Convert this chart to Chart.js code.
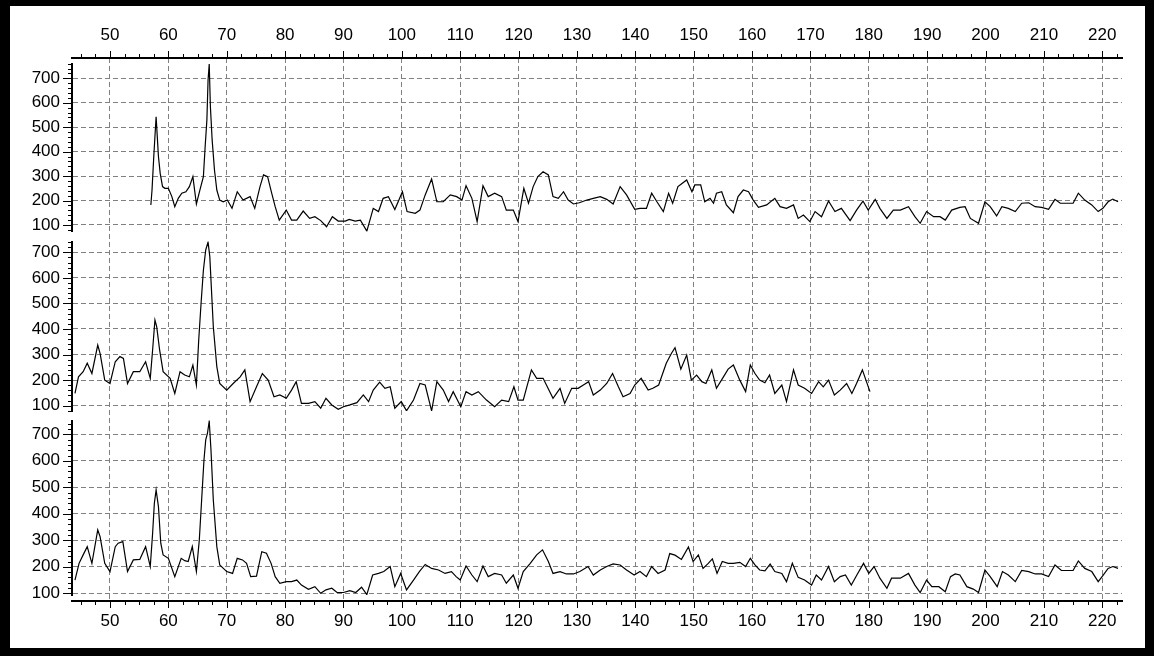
<!DOCTYPE html>
<html>
<head>
<meta charset="utf-8">
<title>Stacked spectra</title>
<script src="https://cdn.jsdelivr.net/npm/chart.js@4.4.1/dist/chart.umd.min.js"></script>
<style>
  html, body { margin: 0; padding: 0; background: #000; }
  body { width: 1154px; height: 656px; position: relative; overflow: hidden; }
  #frame { position: absolute; left: 10px; top: 6px; width: 1135px; height: 642px; background: #fff; }
  canvas { display: block; }
</style>
</head>
<body>
<div id="frame"><canvas id="chart" width="1135" height="642"></canvas></div>
<script>
// Axis labels
const X_TICKS = [50, 60, 70, 80, 90, 100, 110, 120, 130, 140, 150, 160, 170, 180, 190, 200, 210, 220];
const Y_TICKS = [100, 200, 300, 400, 500, 600, 700];
const X_MINOR_STEP = 2.5;
const Y_MINOR_STEP = 20;

// Upper trace
const topX = [57, 57.2, 57.5, 57.9, 58.3, 58.6, 59, 59.4, 60, 60.6,
  61.1, 61.7, 62.3, 63, 63.6, 64.2, 64.8, 65.4, 66, 66.3,
  66.6, 66.8, 67, 67.2, 67.5, 67.9, 68.3, 68.8, 69.4, 70.1,
  70.9, 71.8, 72.8, 74, 74.8, 75.7, 76.3, 77, 77.7, 78.3,
  79, 80.2, 81.1, 82, 83.1, 84.2, 85.1, 86.1, 87.1, 88.1,
  89.1, 90.3, 91, 92, 92.9, 94, 95.1, 96, 96.8, 97.7,
  98.8, 100.1, 100.9, 102.3, 103.1, 104, 105.1, 106, 107.1, 108.3,
  109.4, 110.3, 111, 112, 112.9, 113.9, 114.8, 115.9, 117.1, 117.9,
  119.1, 119.9, 120.9, 121.7, 122.5, 123.3, 124.2, 125.1, 125.9, 126.8,
  127.7, 128.5, 129.4, 130.4, 131.7, 132.8, 134, 135.1, 136.2, 137.4,
  138.5, 139.9, 140.8, 141.9, 142.8, 143.7, 144.8, 145.7, 146.4, 147.3,
  148, 148.8, 149.7, 150.2, 151.2, 151.9, 152.8, 153.4, 153.9, 154.8,
  155.6, 156.8, 157.6, 158.5, 159.4, 160.2, 161.1, 162.5, 163.9, 164.8,
  165.9, 167.1, 167.9, 168.8, 169.9, 170.8, 171.9, 173.1, 174.2, 175.3,
  176.8, 177.9, 179, 179.9, 181.1, 181.9, 183.1, 184.2, 185.4, 186.8,
  187.9, 188.8, 189.9, 191.1, 192.2, 193.1, 194.2, 195.6, 196.5, 197.4,
  198.8, 199.9, 200.8, 201.9, 202.8, 203.9, 205.1, 206.2, 207.4, 208.5,
  209.6, 210.8, 211.9, 212.8, 213.9, 215, 215.9, 217, 218.2, 219.3,
  220.1, 221, 221.8, 222.7];
const topY = [182, 243, 380, 543, 380, 311, 257, 250, 250, 216,
  175, 209, 230, 236, 257, 298, 186, 243, 298, 420,
  530, 693, 758, 584, 448, 325, 243, 202, 195, 202,
  168, 236, 202, 216, 168, 257, 305, 298, 230, 175,
  120, 161, 120, 120, 157, 127, 134, 118, 93, 134,
  116, 116, 123, 116, 120, 75, 168, 155, 209, 216,
  163, 236, 155, 148, 161, 223, 288, 195, 195, 223,
  216, 202, 261, 209, 114, 261, 216, 230, 216, 161,
  161, 114, 250, 189, 257, 298, 318, 305, 216, 209,
  236, 202, 186, 191, 202, 209, 216, 205, 186, 257,
  223, 164, 168, 168, 230, 195, 155, 230, 189, 257,
  270, 284, 236, 264, 264, 195, 209, 189, 230, 236,
  182, 150, 216, 243, 236, 202, 172, 182, 209, 175,
  168, 182, 127, 141, 114, 155, 134, 198, 155, 168,
  118, 161, 198, 161, 205, 168, 127, 161, 161, 175,
  134, 107, 155, 134, 134, 120, 161, 172, 175, 127,
  107, 195, 175, 137, 175, 168, 155, 189, 191, 175,
  172, 164, 205, 189, 189, 189, 230, 202, 182, 155,
  168, 195, 206, 195];

// Middle trace
const midX = [44, 44.6, 45.4, 46.1, 46.9, 47.9, 48.3, 49.1, 50, 50.9,
  51.7, 52.3, 53, 54, 55.1, 56.1, 56.9, 57.3, 57.7, 58,
  58.5, 59.1, 60.3, 61.1, 62, 62.8, 63.6, 64.2, 64.8, 65.2,
  65.6, 66, 66.4, 66.8, 67.1, 67.7, 68.3, 68.8, 70, 71.1,
  72.3, 73.1, 74, 75.1, 76.1, 77.1, 78.1, 79.1, 80.2, 81.1,
  81.9, 82.8, 84, 85.1, 86.1, 87, 88, 89.1, 90, 91.1,
  92.3, 93.4, 94.3, 95.1, 96.2, 97.1, 98, 98.8, 99.9, 100.8,
  102, 103.1, 104, 105.1, 106, 107.1, 108, 108.8, 110.1, 111,
  112, 113.1, 114.5, 115.9, 117.1, 118.3, 119.2, 119.9, 120.8, 122.2,
  123.1, 124.2, 125.9, 127.1, 127.9, 129.1, 130.2, 131.1, 132, 132.8,
  134, 135.1, 136.1, 137.1, 137.9, 139.1, 139.9, 141, 142.2, 143,
  144, 145.3, 146.2, 146.8, 147.8, 148.8, 149.6, 150.5, 151.4, 152.1,
  153.1, 153.9, 155.1, 155.9, 156.8, 157.9, 158.9, 159.7, 160.5, 161.3,
  162.2, 163, 163.9, 165.1, 165.9, 167.1, 167.9, 169, 170.2, 171.4,
  172.2, 173.1, 174.1, 175.1, 176.2, 177.1, 177.9, 178.9, 179.6, 180.2];
const midY = [148, 213, 233, 266, 226, 337, 305, 200, 187, 272,
  292, 285, 187, 233, 233, 272, 207, 318, 435, 409,
  318, 233, 207, 148, 233, 220, 213, 259, 181, 357,
  500, 630, 709, 740, 683, 409, 253, 187, 161, 187,
  213, 240, 116, 174, 226, 200, 135, 142, 129, 161,
  194, 109, 109, 116, 90, 129, 103, 86, 96, 103,
  112, 142, 116, 161, 192, 168, 174, 90, 116, 80,
  122, 187, 181, 80, 194, 161, 116, 155, 96, 155,
  142, 155, 122, 96, 122, 116, 174, 122, 122, 240,
  207, 207, 129, 168, 109, 168, 168, 181, 194, 142,
  161, 187, 226, 174, 135, 148, 181, 207, 161, 168,
  181, 266, 305, 327, 243, 298, 200, 220, 194, 187,
  240, 168, 213, 243, 259, 200, 155, 259, 226, 200,
  190, 220, 148, 181, 116, 240, 181, 168, 148, 194,
  174, 200, 142, 161, 187, 148, 187, 240, 194, 155];

// Lower trace
const botX = [44, 44.7, 45.4, 46.1, 46.9, 47.9, 48.3, 49.1, 50, 50.9,
  51.4, 52.2, 53, 54, 55.1, 56.1, 56.9, 57.3, 57.6, 57.9,
  58.3, 58.7, 59.1, 60, 61.1, 62.2, 62.8, 63.4, 64.1, 64.8,
  65.3, 65.7, 66.1, 66.4, 66.7, 67, 67.3, 67.7, 68.3, 68.8,
  70, 71, 71.8, 72.7, 73.4, 74.1, 75.1, 76, 76.8, 77.6,
  78.3, 79.1, 80.2, 81.1, 82, 82.8, 84, 85.1, 86.1, 87,
  88, 88.9, 90, 91.1, 92.1, 93.1, 94, 95, 96, 96.9,
  98, 98.8, 99.8, 100.8, 102, 103, 104, 105.1, 106.3, 107.4,
  108.5, 109.3, 110, 111, 112, 112.9, 113.9, 114.8, 115.9, 117.1,
  117.9, 119.1, 119.9, 120.8, 122, 123.1, 124.1, 125.1, 125.9, 127.1,
  128.2, 129.4, 130.5, 131.9, 132.8, 134, 135.1, 136.2, 137.4, 138.5,
  139.8, 140.8, 141.9, 142.8, 143.9, 145.1, 145.9, 146.8, 147.9, 149.1,
  149.9, 150.8, 151.6, 152.5, 153.2, 154, 154.9, 155.9, 156.8, 157.9,
  158.9, 159.7, 160.5, 161.3, 162.2, 163.1, 163.9, 165.1, 165.9, 166.9,
  167.9, 169, 170.2, 171, 171.9, 173.1, 174.1, 175.1, 176, 177,
  178.1, 179.1, 180, 180.9, 181.9, 183.1, 183.9, 185.4, 186.8, 187.9,
  188.8, 189.9, 190.8, 192, 193.1, 194, 194.8, 195.6, 196.8, 197.9,
  198.8, 199.9, 200.8, 202, 202.9, 203.9, 205.1, 206.2, 207.4, 208.5,
  209.6, 210.8, 211.9, 213, 214.2, 215, 215.9, 217, 218.2, 219.3,
  220.1, 221, 221.8, 222.7];
const botY = [150, 213, 245, 276, 213, 339, 314, 213, 182, 276,
  289, 295, 182, 226, 228, 276, 201, 326, 440, 490,
  427, 289, 245, 232, 163, 232, 223, 220, 276, 182,
  301, 452, 603, 679, 704, 750, 641, 452, 276, 207,
  182, 175, 232, 226, 213, 163, 165, 257, 251, 213,
  163, 138, 144, 144, 150, 131, 115, 125, 100, 113,
  119, 103, 103, 110, 103, 123, 95, 169, 175, 182,
  201, 125, 175, 113, 150, 182, 209, 194, 188, 175,
  182, 163, 150, 203, 169, 144, 203, 163, 175, 169,
  138, 169, 119, 182, 213, 245, 264, 220, 175, 182,
  173, 173, 182, 201, 169, 188, 201, 211, 207, 188,
  169, 182, 163, 201, 175, 188, 250, 244, 228, 275,
  220, 245, 194, 213, 230, 175, 220, 213, 213, 217,
  201, 232, 207, 188, 185, 210, 182, 175, 144, 213,
  160, 150, 131, 169, 150, 201, 144, 163, 169, 131,
  175, 213, 175, 201, 157, 119, 157, 157, 175, 131,
  103, 150, 125, 125, 106, 163, 173, 169, 125, 116,
  103, 188, 163, 125, 182, 169, 144, 186, 182, 173,
  173, 163, 207, 186, 186, 186, 222, 194, 182, 144,
  167, 194, 201, 194];

const toPoints = (xs, ys) => {
  if (xs.length !== ys.length) throw new Error('length mismatch ' + xs.length + ' / ' + ys.length);
  return xs.map((x, i) => ({ x, y: ys[i] }));
};

const FONT = { family: "'Liberation Sans', Arial, sans-serif", size: 17 };
const GRID_COLOR = '#808080';
const GRID_DASH = [5, 3];
const AXIS_WIDTH = 2;
const X_MIN = 43.49, X_MAX = 223.38;

const fixedTicks = values => scale => { scale.ticks = values.map(v => ({ value: v })); };

function panelAxis(min, max, weight, stackWeight) {
  return {
    type: 'linear', position: 'left', stack: 'panels', weight, stackWeight,
    min, max, bounds: 'data',
    afterBuildTicks: fixedTicks(Y_TICKS),
    afterFit: s => { s.width = 62; },
    grid: { color: GRID_COLOR, lineWidth: 1, drawTicks: false, tickLength: 0 },
    border: { display: true, color: '#000', width: AXIS_WIDTH, dash: GRID_DASH },
    ticks: { color: '#000', font: FONT, padding: 12, autoSkip: false }
  };
}
function spacerAxis(weight, stackWeight) {
  return { type: 'linear', position: 'left', stack: 'panels', weight, stackWeight, display: false };
}
function xAxis(position, showGrid, height, pad) {
  return {
    type: 'linear', position, min: X_MIN, max: X_MAX, bounds: 'data',
    afterBuildTicks: fixedTicks(X_TICKS),
    afterFit: s => { s.height = height; },
    grid: { display: showGrid, color: GRID_COLOR, lineWidth: 1, drawTicks: false, tickLength: 0 },
    border: { display: true, color: '#000', width: AXIS_WIDTH, dash: GRID_DASH },
    ticks: { color: '#000', font: FONT, padding: pad, maxRotation: 0, autoSkip: false }
  };
}

// Short outward tick marks: long at labelled values, short in between
const axisTickMarks = {
  id: 'axisTickMarks',
  afterDraw(chart) {
    const ctx = chart.ctx;
    ctx.save();
    ctx.strokeStyle = '#000';
    ctx.lineWidth = 1;
    ctx.beginPath();
    [['x', 1], ['x2', -1]].forEach(([id, dir]) => {
      const s = chart.scales[id];
      const edge = dir > 0 ? s.top : s.bottom;
      for (let v = Math.ceil(s.min / X_MINOR_STEP) * X_MINOR_STEP; v <= s.max + 1e-9; v += X_MINOR_STEP) {
        const px = Math.round(s.getPixelForValue(v)) + 0.5;
        const len = Math.abs(v % 10) < 1e-6 ? 7 : 4;
        ctx.moveTo(px, edge);
        ctx.lineTo(px, edge + dir * len);
      }
    });
    ['yTop', 'yMid', 'yBot'].forEach(id => {
      const s = chart.scales[id];
      const edge = s.right;
      for (let v = Math.ceil(s.min / Y_MINOR_STEP) * Y_MINOR_STEP; v <= s.max + 1e-9; v += Y_MINOR_STEP) {
        const py = Math.round(s.getPixelForValue(v)) + 0.5;
        const len = v % 100 === 0 ? 9 : 4;
        ctx.moveTo(edge - len, py);
        ctx.lineTo(edge, py);
      }
    });
    ctx.stroke();
    ctx.restore();
  }
};

const traceStyle = { borderColor: '#000', borderWidth: 1.2, pointRadius: 0, tension: 0, fill: false, xAxisID: 'x' };

new Chart(document.getElementById('chart'), {
  type: 'line',
  data: {
    datasets: [
      Object.assign({ data: toPoints(topX, topY), yAxisID: 'yTop' }, traceStyle),
      Object.assign({ data: toPoints(midX, midY), yAxisID: 'yMid' }, traceStyle),
      Object.assign({ data: toPoints(botX, botY), yAxisID: 'yBot' }, traceStyle)
    ]
  },
  options: {
    responsive: false,
    animation: false,
    devicePixelRatio: 1,
    layout: { padding: { left: 0, top: 0, right: 23, bottom: 0 } },
    plugins: { legend: { display: false }, tooltip: { enabled: false }, title: { display: false } },
    scales: {
      x: xAxis('bottom', true, 47, 10.5),
      x2: xAxis('top', false, 52, 12.3),
      padTop: spacerAxis(7, 5.5),
      yTop: panelAxis(73.4, 760.5, 6, 168),
      gap1: spacerAxis(5, 10),
      yMid: panelAxis(79.3, 742.2, 4, 169.5),
      gap2: spacerAxis(3, 9.5),
      yBot: panelAxis(93.6, 752.1, 2, 174.5),
      padBottom: spacerAxis(1, 6)
    }
  },
  plugins: [axisTickMarks]
});
</script>
</body>
</html>
